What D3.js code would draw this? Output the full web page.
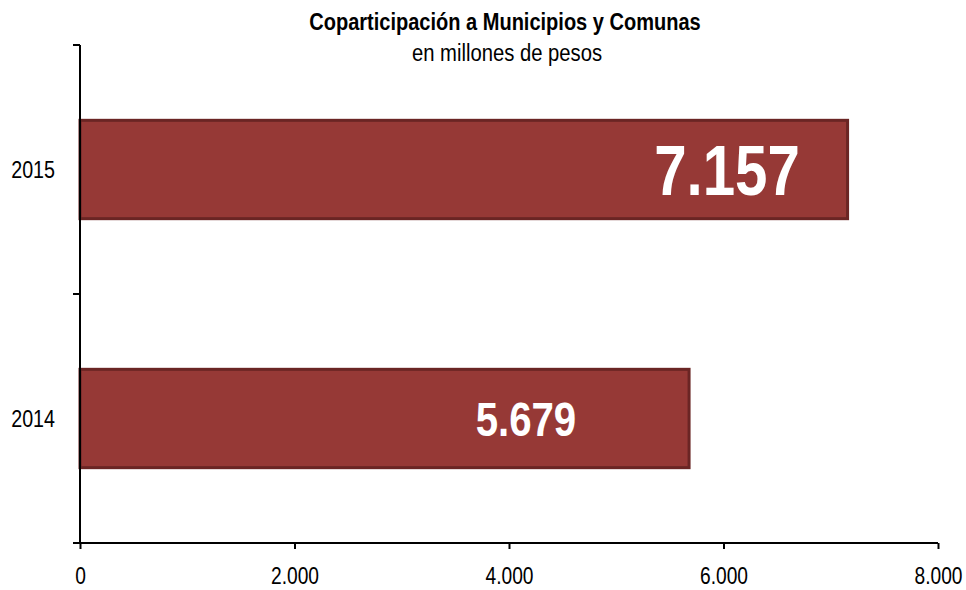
<!DOCTYPE html>
<html>
<head>
<meta charset="utf-8">
<script src="https://cdn.jsdelivr.net/npm/d3@7"></script>
<style>
  body { margin: 0; background: #fff; }
  svg text { font-family: 'Liberation Sans', Arial, sans-serif; }
</style>
</head>
<body>
<div id="chart"></div>
<script>
const years = ['2015', '2014'];
const values = [7157, 5679];
const valueLabels = ['7.157', '5.679'];
// where the label centre sits, in data units
const labelPos = [6033, 4158];
const labelSizes = [71, 49];
const xTicks = [0, 2000, 4000, 6000, 8000];
const xTickLabels = ['0', '2.000', '4.000', '6.000', '8.000'];

const width = 966;
const height = 590;
const margin = { top: 45, right: 28, bottom: 47, left: 80 };
const narrowFactor = 0.82; // fake Arial Narrow

const svg = d3.select('#chart').append('svg')
  .attr('width', width)
  .attr('height', height);

const narrow = function narrow(sel, k) {
  sel.each(function squeeze() {
    const len = this.getComputedTextLength();
    d3.select(this)
      .attr('textLength', len * (k || narrowFactor))
      .attr('lengthAdjust', 'spacingAndGlyphs');
  });
};

const x = d3.scaleLinear()
  .domain([0, 8000])
  .range([margin.left, width - margin.right]);

const y = d3.scaleBand()
  .domain(years)
  .range([margin.top, height - margin.bottom])
  .paddingInner(0.605)
  .paddingOuter(0.3025);

const yLines = d3.scaleBand()
  .domain(years)
  .range([margin.top, height - margin.bottom]);

// title
svg.append('text')
  .attr('x', 505)
  .attr('y', 30)
  .attr('text-anchor', 'middle')
  .attr('font-size', 23)
  .attr('font-weight', 'bold')
  .attr('fill', '#000')
  .text('Coparticipación a Municipios y Comunas')
  .call(narrow, 0.87);

svg.append('text')
  .attr('x', 507)
  .attr('y', 61)
  .attr('text-anchor', 'middle')
  .attr('font-size', 23)
  .attr('fill', '#000')
  .text('en millones de pesos')
  .call(narrow, 0.88);

// bars
svg.append('g')
  .selectAll('rect')
  .data(years)
  .enter()
  .append('rect')
  .attr('x', x(0))
  .attr('y', d => y(d))
  .attr('width', (d, i) => x(values[i]) - x(0))
  .attr('height', y.bandwidth())
  .attr('fill', '#963936')
  .attr('stroke', '#6a2524')
  .attr('stroke-width', 3);

svg.append('g')
  .selectAll('text')
  .data(years)
  .enter()
  .append('text')
  .attr('x', (d, i) => x(labelPos[i]))
  .attr('y', d => y(d) + y.bandwidth() / 2)
  .attr('dy', '0.36em')
  .attr('text-anchor', 'middle')
  .attr('font-size', (d, i) => labelSizes[i])
  .attr('font-weight', 'bold')
  .attr('fill', '#fff')
  .text((d, i) => valueLabels[i])
  .call(narrow);

// y axis
const yBoundaries = [margin.top].concat(years.map(d => yLines(d) + yLines.bandwidth()));
const yAxis = svg.append('g');
yAxis.append('line')
  .attr('x1', x(0)).attr('x2', x(0))
  .attr('y1', margin.top).attr('y2', height - margin.bottom)
  .attr('stroke', '#000')
  .attr('stroke-width', 2);
yAxis.selectAll('.tick')
  .data(yBoundaries)
  .enter()
  .append('line')
  .attr('x1', x(0) - 7).attr('x2', x(0))
  .attr('y1', d => d).attr('y2', d => d)
  .attr('stroke', '#000')
  .attr('stroke-width', 2);
yAxis.selectAll('text')
  .data(years)
  .enter()
  .append('text')
  .attr('x', 55)
  .attr('y', d => yLines(d) + yLines.bandwidth() / 2)
  .attr('dy', '0.35em')
  .attr('text-anchor', 'end')
  .attr('font-size', 24)
  .attr('fill', '#000')
  .text(d => d)
  .call(narrow);

// x axis
const xAxis = svg.append('g')
  .attr('transform', `translate(0,${height - margin.bottom})`)
  .call(d3.axisBottom(x)
    .tickValues(xTicks)
    .tickSize(6)
    .tickPadding(18)
    .tickFormat((d, i) => xTickLabels[i]));
xAxis.attr('font-family', null);
xAxis.select('.domain').attr('stroke-width', 2).attr('d', `M${x(0) - 5},0H${x(8000)}`);
xAxis.selectAll('.tick line').attr('stroke-width', 2);
xAxis.selectAll('.tick text')
  .attr('font-size', 24)
  .attr('fill', '#000')
  .call(narrow, 0.8);
</script>
</body>
</html>
